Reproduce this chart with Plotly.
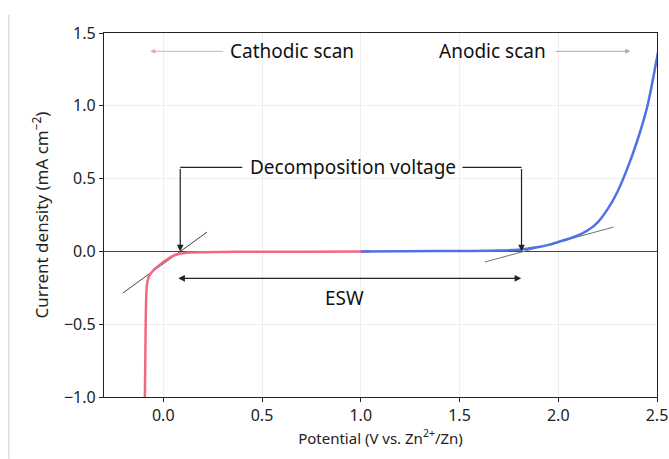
import plotly.graph_objects as go

# Cathodic scan (red)
cath_x = [-0.093, -0.091, -0.089, -0.087, -0.084, -0.079, -0.07, -0.05, -0.025, 0.0, 0.03, 0.06, 0.09, 0.13, 0.2, 0.4, 0.7, 1.05]
cath_y = [-1.0, -0.75, -0.5, -0.35, -0.25, -0.2, -0.165, -0.13, -0.1, -0.075, -0.045, -0.025, -0.014, -0.008, -0.005, -0.003, -0.002, 0.0]

# Anodic scan (blue)
anod_x = [1.0, 1.4, 1.7, 1.8, 1.85, 1.9, 1.95, 2.0, 2.05, 2.1, 2.15, 2.2, 2.25, 2.3, 2.35, 2.4, 2.45, 2.5, 2.53]
anod_y = [0.0, 0.002, 0.006, 0.012, 0.02, 0.03, 0.045, 0.065, 0.085, 0.11, 0.145, 0.2, 0.29, 0.41, 0.57, 0.76, 0.99, 1.33, 1.55]

# Tangent lines
tan_c_x = [-0.205, 0.222]
tan_c_y = [-0.286, 0.133]
tan_a_x = [1.628, 2.28]
tan_a_y = [-0.073, 0.167]

x_ticks = [0.0, 0.5, 1.0, 1.5, 2.0, 2.5]
y_ticks = [-1.0, -0.5, 0.0, 0.5, 1.0, 1.5]

FONT = "Noto Sans"
ANN_SIZE = 19

fig = go.Figure()
fig.add_trace(go.Scatter(x=tan_c_x, y=tan_c_y, mode="lines",
                         line=dict(color="#444444", width=1), showlegend=False))
fig.add_trace(go.Scatter(x=tan_a_x, y=tan_a_y, mode="lines",
                         line=dict(color="#5f7f5f", width=1), showlegend=False))
fig.add_trace(go.Scatter(x=cath_x, y=cath_y, mode="lines", line_shape="spline",
                         line=dict(color="#f26882", width=2.5), showlegend=False))
fig.add_trace(go.Scatter(x=anod_x, y=anod_y, mode="lines", line_shape="spline",
                         line=dict(color="#5270e6", width=2.5), showlegend=False))

dec_left = 0.086
dec_right = 1.814
dec_y = 0.577

fig.add_shape(type="line", x0=dec_left, x1=0.40, y0=dec_y, y1=dec_y,
              line=dict(color="#222", width=1.2))
fig.add_shape(type="line", x0=1.515, x1=dec_right, y0=dec_y, y1=dec_y,
              line=dict(color="#222", width=1.2))

ann = []
for xv in (dec_left, dec_right):
    ann.append(dict(x=xv, y=0.0, ax=xv, ay=dec_y, xref="x", yref="y", axref="x", ayref="y",
                    text="", showarrow=True, arrowhead=2, arrowsize=1.1, arrowwidth=1.2,
                    arrowcolor="#222"))
ann.append(dict(x=0.96, y=dec_y, xref="x", yref="y", text="Decomposition voltage",
                showarrow=False, font=dict(family=FONT, size=ANN_SIZE, color="#111")))
ann.append(dict(x=0.076, y=-0.185, ax=1.82, ay=-0.185, xref="x", yref="y", axref="x", ayref="y",
                text="", showarrow=True, arrowhead=2, startarrowhead=2, arrowside="end+start",
                arrowsize=1.1, startarrowsize=1.1, arrowwidth=1.2, arrowcolor="#222"))
ann.append(dict(x=0.92, y=-0.32, xref="x", yref="y", text="ESW",
                showarrow=False, font=dict(family=FONT, size=ANN_SIZE, color="#111")))
ann.append(dict(x=0.65, y=1.374, xref="x", yref="y", text="Cathodic scan",
                showarrow=False, font=dict(family=FONT, size=ANN_SIZE, color="#111")))
ann.append(dict(x=-0.066, y=1.374, ax=0.31, ay=1.374, xref="x", yref="y", axref="x", ayref="y",
                text="", showarrow=True, arrowhead=2, arrowsize=1, arrowwidth=1,
                arrowcolor="#f2a3b3"))
ann.append(dict(x=1.665, y=1.374, xref="x", yref="y", text="Anodic scan",
                showarrow=False, font=dict(family=FONT, size=ANN_SIZE, color="#111")))
ann.append(dict(x=2.365, y=1.374, ax=1.98, ay=1.374, xref="x", yref="y", axref="x", ayref="y",
                text="", showarrow=True, arrowhead=2, arrowsize=1, arrowwidth=1,
                arrowcolor="#8fb0cc"))

fig.add_shape(type="line", xref="paper", yref="paper", x0=-0.172, x1=-0.172, y0=-0.17, y1=1.05,
              line=dict(color="#cccccc", width=1))

fig.update_layout(
    width=669, height=459,
    margin=dict(l=104, r=12, t=33, b=62, autoexpand=False),
    paper_bgcolor="white", plot_bgcolor="white",
    font=dict(family=FONT, size=16, color="#222"),
    annotations=ann,
    showlegend=False,
)
fig.update_xaxes(range=[-0.3, 2.5], tickvals=x_ticks, ticktext=[f"{v:.1f}" for v in x_ticks],
                 tickfont=dict(size=16), automargin=False, ticklabeloverflow="allow",
                 showline=True, linecolor="#222", linewidth=1.3, mirror=True,
                 ticks="outside", ticklen=4, tickcolor="#222",
                 showgrid=True, gridcolor="#eeeeee", gridwidth=1, zeroline=False,
                 title=dict(text="Potential (V vs. Zn<sup>2+</sup>/Zn)", font=dict(size=15), standoff=6))
fig.update_yaxes(range=[-1.0, 1.5], tickvals=y_ticks,
                 ticktext=[f"{v:.1f}".replace("-", "\u2212") for v in y_ticks],
                 tickfont=dict(size=16), automargin=False,
                 showline=True, linecolor="#222", linewidth=1.3, mirror=True,
                 ticks="outside", ticklen=4, tickcolor="#222",
                 showgrid=True, gridcolor="#eeeeee", gridwidth=1,
                 zeroline=True, zerolinecolor="#444444", zerolinewidth=1,
                 title=dict(text="Current density (mA cm<sup>\u22122</sup>)", font=dict(size=17), standoff=10))

fig.write_html("out.html")
